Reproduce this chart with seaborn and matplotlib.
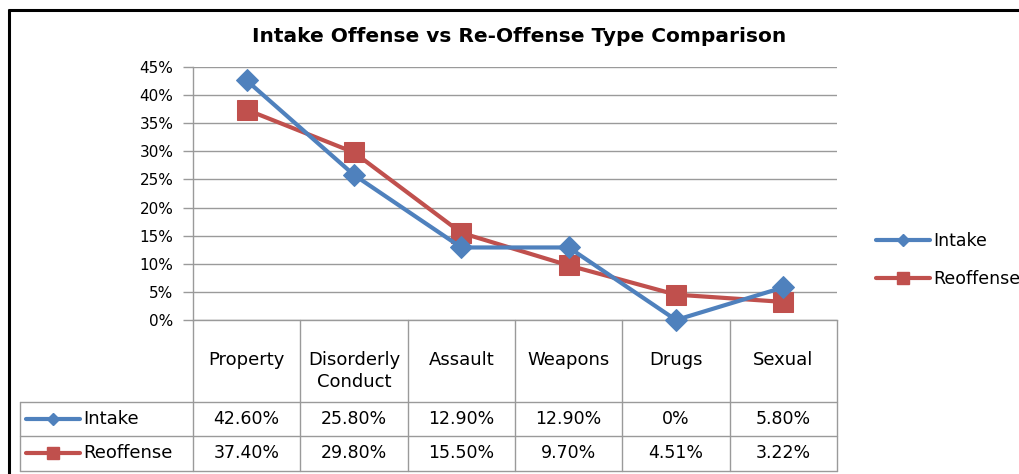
import numpy as np
import pandas as pd
import matplotlib.pyplot as plt
import seaborn as sns
from matplotlib.lines import Line2D
from matplotlib.transforms import blended_transform_factory

# data (percent)
categories = ["Property", "Disorderly\nConduct", "Assault", "Weapons", "Drugs", "Sexual"]
intake = [42.60, 25.80, 12.90, 12.90, 0.0, 5.80]
reoffense = [37.40, 29.80, 15.50, 9.70, 4.51, 3.22]
series_names = ["Intake", "Reoffense"]
yticks = [0, 5, 10, 15, 20, 25, 30, 35, 40, 45]

blue = "#4F81BD"
red = "#C0504D"
gridc = "#9a9a9a"

sns.set_style("white")
plt.rcParams['font.family'] = ['DejaVu Sans']
plt.rcParams['text.color'] = 'black'
plt.rcParams['ytick.labelcolor'] = 'black'

W, H = 1020, 474
fig = plt.figure(figsize=(W / 100, H / 100), dpi=100)

def px(x, y):
    # pixel (from top left) -> figure fraction
    return x / W, 1 - y / H

ax = fig.add_axes([193 / W, 1 - 320 / H, (837 - 193) / W, (320 - 67) / H])
pos = np.arange(len(categories))

df = pd.DataFrame({"pos": np.concatenate([pos, pos]),
                   "value": intake + reoffense,
                   "series": [series_names[0]] * len(pos) + [series_names[1]] * len(pos)})

sns.lineplot(data=df[df.series == "Intake"], x="pos", y="value", ax=ax, color=blue,
             linewidth=3, marker="D", markersize=11, markeredgecolor=blue,
             clip_on=False, zorder=5)
sns.lineplot(data=df[df.series == "Reoffense"], x="pos", y="value", ax=ax, color=red,
             linewidth=3, marker="s", markersize=14, markeredgecolor=red,
             clip_on=False, zorder=4)

ax.set_xlim(-0.5, len(categories) - 0.5)
ax.set_ylim(0, 45)
ax.set_yticks(yticks)
ax.set_yticklabels([f"{t}%" for t in yticks], fontsize=11)
ax.set_xticks([])
ax.set_xlabel("")
ax.set_ylabel("")
ax.yaxis.grid(True, color=gridc, lw=1)
ax.tick_params(axis="y", direction="out", length=7, width=1, color=gridc, pad=7, left=True)
for s in ["top", "right"]:
    ax.spines[s].set_visible(False)
for s in ["left", "bottom"]:
    ax.spines[s].set_color(gridc)
    ax.spines[s].set_linewidth(1)
if ax.get_legend():
    ax.get_legend().remove()

# right legend
handles = [Line2D([], [], color=blue, lw=3, marker="D", markersize=6, markeredgecolor=blue),
           Line2D([], [], color=red, lw=3, marker="s", markersize=8, markeredgecolor=red)]
fig.legend(handles, series_names, loc="center left", bbox_to_anchor=px(876, 260),
           frameon=False, fontsize=12.5, handlelength=3.1, handletextpad=0.2,
           labelspacing=1.15, borderpad=0, borderaxespad=0)

# data table below the plot
bt = blended_transform_factory(ax.transData, fig.transFigure)
tab_left = 20
row_y = [402, 436, 471]
for y in row_y:
    fig.add_artist(Line2D([tab_left / W, 837 / W], [1 - y / H] * 2, color=gridc, lw=1))
for i in range(len(categories) + 1):
    fig.add_artist(Line2D([i - 0.5] * 2, [1 - 320 / H, 1 - 471 / H], transform=bt, color=gridc, lw=1))
fig.add_artist(Line2D([tab_left / W] * 2, [1 - 402 / H, 1 - 471 / H], color=gridc, lw=1))

for i, c in enumerate(categories):
    fig.text(i, 1 - 351 / H, c, transform=bt, ha="center", va="top", fontsize=13, linespacing=1.3)

def fmt(v):
    return f"{v:.2f}%" if v else "0%"

for vals, y in [(intake, 419), (reoffense, 453)]:
    for i, v in enumerate(vals):
        fig.text(i, 1 - y / H, fmt(v), transform=bt, ha="center", va="center", fontsize=12.5)

# legend keys inside the table
for name, col, mk, ms, y in [("Intake", blue, "D", 6, 419), ("Reoffense", red, "s", 8, 453)]:
    fig.add_artist(Line2D([26 / W, 80 / W], [1 - y / H] * 2, color=col, lw=3))
    fig.add_artist(Line2D([53 / W], [1 - y / H], color=col, marker=mk, markersize=ms, markeredgecolor=col))
    fig.text(83 / W, 1 - y / H, name, ha="left", va="center", fontsize=13)

fig.text(519 / W, 1 - 37 / H, "Intake Offense vs Re-Offense Type Comparison",
         ha="center", va="center", fontsize=14.5, fontweight="bold")

# outer chart border: only left and top edges fall inside the picture
fig.add_artist(Line2D([9.5 / W, 9.5 / W], [0, 1 - 8.5 / H], color="black", lw=2.2,
                      solid_capstyle="butt"))
fig.add_artist(Line2D([8.5 / W, 1.0], [1 - 9.5 / H, 1 - 9.5 / H], color="black", lw=2.2,
                      solid_capstyle="butt"))

fig.savefig("out.png", dpi=100)
